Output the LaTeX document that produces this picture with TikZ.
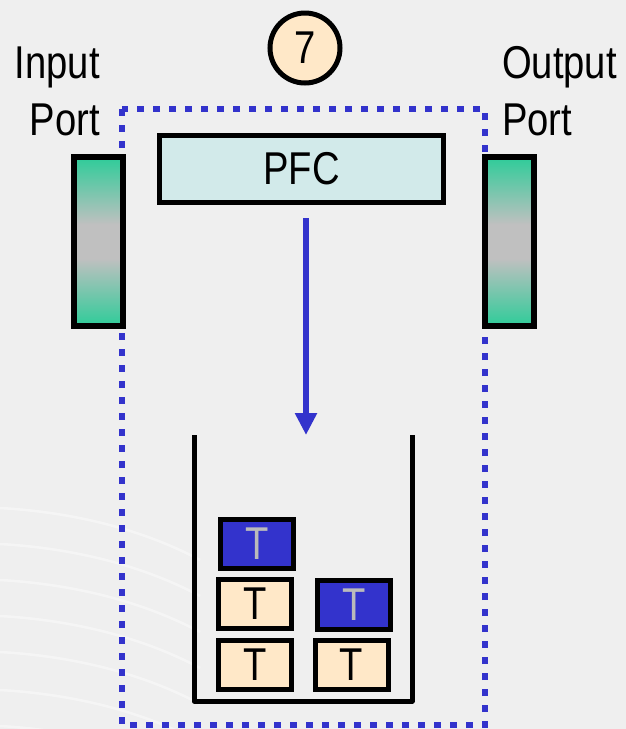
\documentclass[tikz,border=0pt]{standalone}
\usepackage{fontspec}
\setmainfont{Liberation Sans}
\newfontfamily\cond[FakeStretch=0.83]{Liberation Sans}
\usetikzlibrary{arrows.meta}
\definecolor{bgc}{HTML}{EFEFEF}
\definecolor{myblue}{HTML}{3333CC}
\definecolor{tan}{HTML}{FFE8C8}
\definecolor{pfcc}{HTML}{D2EAEA}
\definecolor{portg}{HTML}{2ECC99}
\definecolor{portm}{HTML}{C0C0C0}
\definecolor{tgray}{HTML}{BBBBBB}
\pgfdeclareverticalshading{portshade}{100bp}{color(0bp)=(portg); color(25bp)=(portg); color(45bp)=(portm); color(55bp)=(portm); color(75bp)=(portg); color(100bp)=(portg)}
\tikzset{
  lbl/.style={font={\cond\fontsize{46}{57}\selectfont}, inner sep=0pt},
  tok/.style={draw=black, line width=5pt, minimum width=73pt, minimum height=49pt,
              inner sep=0pt, font={\cond\fontsize{46}{46}\selectfont}},
  tantok/.style={tok, fill=tan, text=black},
  bluetok/.style={tok, fill=myblue, text=tgray},
  portbox/.style={draw=black, line width=6pt, minimum width=49pt, minimum height=169pt,
                  shading=portshade, inner sep=0pt},
  frameline/.style={draw=myblue, line width=6pt, dash pattern=on 7pt off 9pt},
  cup/.style={draw=black, line width=5pt, line join=round},
  flow/.style={draw=myblue, line width=6pt, -{Triangle[width=21pt,length=22pt]}},
  swoosh/.style={draw=white, line width=2.5pt, opacity=0.4}
}
\begin{document}
\begin{tikzpicture}[x=1pt,y=-1pt]
\fill[bgc] (0,0) rectangle (626,729);
\useasboundingbox (0,0) rectangle (626,729);
% faint background swooshes
\foreach \yy in {508,544,580,616,652,690,726}{
  \draw[swoosh] (0,\yy) .. controls (70,\yy+4) and (140,\yy+20) .. (200,\yy+52);
}
% frame
\draw[frameline] (122,109) rectangle (485,725);
% step circle
\node[circle, draw=black, line width=5pt, fill=tan, minimum size=70pt, inner sep=0pt,
      font={\cond\fontsize{46}{46}\selectfont}] (seven) at (305,48) {7};
% labels
\node[lbl, anchor=base east] (inlab1) at (100,78) {Input};
\node[lbl, anchor=base east] (inlab2) at (100,135) {Port};
\node[lbl, anchor=base west] (outlab1) at (502,78) {Output};
\node[lbl, anchor=base west] (outlab2) at (502,135) {Port};
% ports
\node[portbox] (inport) at (98.5,241.5) {};
\node[portbox] (outport) at (509.5,241.5) {};
% PFC
\node[draw=black, line width=5pt, fill=pfcc, minimum width=284pt, minimum height=67pt,
      inner sep=0pt, font={\cond\fontsize{46}{46}\selectfont}] (pfc) at (301.5,169) {PFC};
% arrow
\coordinate (tip) at (306,435);
\coordinate (start) at (306,218);
\draw[flow] (start) -- (tip);
% container
\coordinate (cl) at (194,435);
\coordinate (cr) at (412,435);
\draw[cup] (cl) |- (412,701) -- (cr);
% tokens
\node[bluetok] (t1) at (257,544) {T};
\node[tantok] (t2) at (255,604) {T};
\node[bluetok] (t3) at (354,604.5) {T};
\node[tantok] (t4) at (255,665) {T};
\node[tantok] (t5) at (351.5,665) {T};
\end{tikzpicture}
\end{document}
